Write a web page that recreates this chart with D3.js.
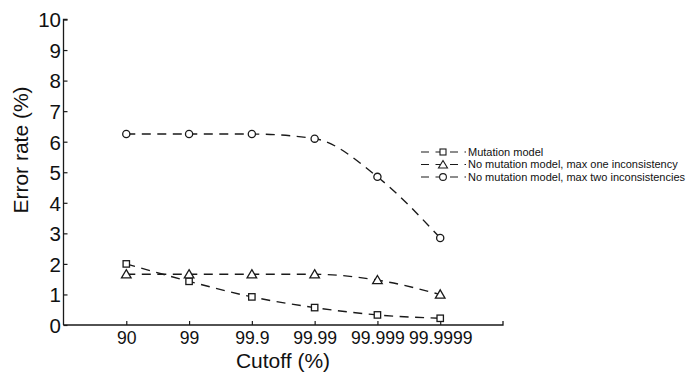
<!DOCTYPE html>
<html><head><meta charset="utf-8">
<script src="https://cdn.jsdelivr.net/npm/d3@7"></script>
<style>body{margin:0;background:#fff}svg{display:block}text{font-family:"Liberation Sans",Arial,sans-serif;fill:#111}</style>
</head><body>
<svg id="c" width="689" height="372"></svg>
<script>
const categories = ["90","99","99.9","99.99","99.999","99.9999"];
const mutationModel = [2.0,1.43,0.92,0.57,0.33,0.22];
const maxOne = [1.66,1.66,1.66,1.66,1.47,1.0];
const maxTwo = [6.25,6.25,6.25,6.1,4.85,2.85];
const yTicks = [0,1,2,3,4,5,6,7,8,9,10];
const seriesNames = ["Mutation model","No mutation model, max one inconsistency","No mutation model, max two inconsistencies"];
const series = [
  {name: seriesNames[0], values: mutationModel, sym: "square"},
  {name: seriesNames[1], values: maxOne, sym: "triangle"},
  {name: seriesNames[2], values: maxTwo, sym: "circle"}
];
const svg = d3.select("#c");
const x = d3.scaleLinear().domain([-1, categories.length]).range([63.5, 503]);
const y = d3.scaleLinear().domain([0, 10]).range([325, 19.5]);
const ink = "#1a1a1a";
// axes
const ya = svg.append("g").attr("transform","translate(63.5,0)")
  .call(d3.axisRight(y).tickValues(yTicks).tickSize(4).tickFormat(d3.format("d")));
ya.select(".domain").attr("d", `M4,${y(10)}H0V${y(0)}`).attr("stroke",ink).attr("stroke-width",1.3);
ya.selectAll(".tick line").attr("stroke",ink).attr("stroke-width",1.2);
ya.selectAll(".tick text").attr("x",-2.5).attr("text-anchor","end").attr("dy","0.36em").style("font-size","20.5px");
const xa = svg.append("g").attr("transform",`translate(0,${y(0)})`)
  .call(d3.axisTop(x).tickValues(d3.range(categories.length)).tickSize(4).tickFormat(i=>categories[i]));
xa.select(".domain").attr("d", `M${x(-1)},0H${x(categories.length)}V-4`).attr("stroke",ink).attr("stroke-width",1.3);
xa.selectAll(".tick line").attr("stroke",ink).attr("stroke-width",1.2);
xa.selectAll(".tick text").attr("y",18.5).attr("dy","0em").attr("text-anchor","middle").style("font-size","17.6px");
// axis titles
svg.append("text").attr("x", 283).attr("y", 368).attr("text-anchor","middle").style("font-size","21px").text("Cutoff (%)");
svg.append("text").attr("transform","translate(28,150) rotate(-90)").attr("text-anchor","middle").style("font-size","21px").text("Error rate (%)");
// lines
const line = d3.line().x((d,i)=>x(i)).y(d=>y(d)).curve(d3.curveMonotoneX);
function marker(g, sym, cx, cy){
  if(sym==="square") g.append("rect").attr("x",cx-3.2).attr("y",cy-3.2).attr("width",6.4).attr("height",6.4);
  else if(sym==="triangle") g.append("path").attr("d",`M${cx},${cy-4.6}L${cx+4.8},${cy+3.6}L${cx-4.8},${cy+3.6}Z`);
  else g.append("circle").attr("cx",cx).attr("cy",cy).attr("r",3.6);
}
series.forEach(s=>{
  svg.append("path").datum(s.values).attr("d",line).attr("fill","none").attr("stroke",ink)
    .attr("stroke-width",1.4).attr("stroke-dasharray","9,6.5");
  const g = svg.append("g").attr("fill","#fff").attr("stroke",ink).attr("stroke-width",1.3);
  s.values.forEach((v,i)=>marker(g, s.sym, x(i), y(v)));
});
// legend
const ly = [152, 164.5, 177];
series.forEach((s,k)=>{
  const g = svg.append("g");
  g.append("line").attr("x1",421).attr("x2",466).attr("y1",ly[k]).attr("y2",ly[k])
    .attr("stroke",ink).attr("stroke-width",1.2).attr("stroke-dasharray","8,6.5");
  const mg = g.append("g").attr("fill","#fff").attr("stroke",ink).attr("stroke-width",1.1);
  if(s.sym==="square") mg.append("rect").attr("x",440).attr("y",ly[k]-3).attr("width",6).attr("height",6);
  else if(s.sym==="triangle") mg.append("path").attr("d",`M443,${ly[k]-4}L447.5,${ly[k]+3.5}L438.5,${ly[k]+3.5}Z`);
  else mg.append("circle").attr("cx",443).attr("cy",ly[k]).attr("r",3.4);
  g.append("text").attr("x",468).attr("y",ly[k]).attr("dy","0.35em").style("font-size","11px").text(s.name);
});
</script>
</body></html>
